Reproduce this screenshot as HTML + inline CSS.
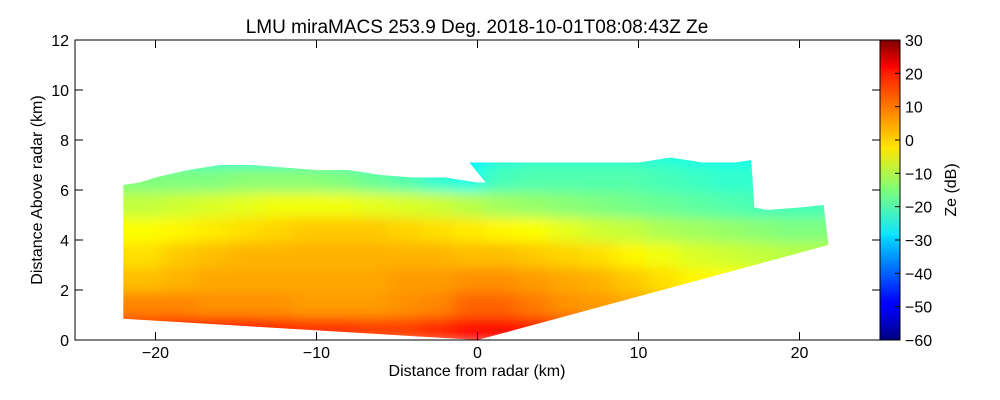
<!DOCTYPE html>
<html><head><meta charset="utf-8"><style>
body{margin:0;background:#fff;}
svg{display:block;font-family:"Liberation Sans",sans-serif;}
</style></head><body>
<svg width="1000" height="400" viewBox="0 0 1000 400">
<defs>
<clipPath id="scan"><polygon id="scanPoly" points=""/></clipPath>
<filter id="blur" x="-5%" y="-5%" width="110%" height="110%"><feGaussianBlur stdDeviation="9 6"/></filter>
<linearGradient id="jet" x1="0" y1="1" x2="0" y2="0">
<stop offset="0" stop-color="#00007f"/><stop offset="0.11" stop-color="#0000ff"/>
<stop offset="0.125" stop-color="#0000ff"/><stop offset="0.34" stop-color="#00d4ff"/>
<stop offset="0.35" stop-color="#0de5ff"/><stop offset="0.5" stop-color="#7dff7a"/>
<stop offset="0.64" stop-color="#ffe600"/><stop offset="0.66" stop-color="#ffd700"/>
<stop offset="0.89" stop-color="#ff1e00"/><stop offset="0.91" stop-color="#ff0000"/>
<stop offset="1" stop-color="#7f0000"/></linearGradient>
</defs>
<text x="477" y="33" text-anchor="middle" font-size="19">LMU miraMACS 253.9 Deg. 2018-10-01T08:08:43Z  Ze</text>
<g clip-path="url(#scan)"><g id="cells" filter="url(#blur)"></g></g>
<rect x="75" y="40" width="805" height="300" fill="none" stroke="#000" stroke-width="1"/>
<g id="axes"></g>
<text x="477" y="376" text-anchor="middle" font-size="16">Distance from radar (km)</text>
<text transform="translate(42,190) rotate(-90)" text-anchor="middle" font-size="16">Distance Above radar  (km)</text>
<rect x="880" y="40" width="20" height="300" fill="url(#jet)" stroke="#000" stroke-width="1"/>
<g id="cbar"></g>
<text transform="translate(956,190) rotate(-90)" text-anchor="middle" font-size="16">Ze (dB)</text>
</svg>
<script>
const xCols=[-22,-20,-18,-16,-14,-12,-10,-8,-6,-4,-2,0,2,4,6,8,10,12,14,16,18,20,22];
const yRows=[0.5,1.5,2.5,3.5,4.5,5.5,6.5,7.5];
const ze=[
[15,15,16,16,16,15,14,14,13,13,15,18,18,16,14,12,10,8,6,4,2,0,-2],
[7,7,7,6,6,6,5,5,5,6,7,10,10,8,6,5,4,2,0,-2,-4,-5,-6],
[2,2,3,4,4,4,4,4,4,5,5,6,6,5,4,3,1,-1,-3,-4,-5,-6,-7],
[-1,-1,1,2,3,3,3,3,3,3,3,2,2,1,0,-1,-3,-5,-7,-8,-9,-10,-10],
[-4,-4,-3,-2,-1,0,1,1,1,0,-1,-2,-3,-4,-6,-8,-9,-11,-12,-13,-14,-15,-15],
[-9,-9,-8,-7,-6,-5,-5,-5,-6,-7,-8,-10,-12,-13,-14,-15,-16,-17,-18,-19,-20,-20,-20],
[-15,-15,-15,-15,-14,-14,-14,-15,-17,-19,-22,-24,-20,-19,-19,-19,-19,-20,-21,-22,-22,-22,-22],
[-22,-22,-22,-22,-22,-22,-22,-22,-24,-26,-27,-27,-23,-22,-22,-22,-22,-23,-24,-24,-24,-24,-24]];
const topX=[-22,-21,-20,-18,-16,-14,-12,-10,-8,-6,-4,-2,-1,0,0.5,-0.5,1,2,4,6,8,10,12,14,16,17,17.2,18,20,21.5];
const topY=[6.2,6.3,6.5,6.8,7.0,7.0,6.9,6.8,6.8,6.6,6.5,6.5,6.4,6.3,6.3,7.1,7.1,7.1,7.1,7.1,7.1,7.1,7.3,7.1,7.1,7.2,5.3,5.2,5.3,5.4];
const bottomX=[21.8,0,-22];
const bottomY=[3.8,0,0.85];
const xTicks=[-20,-10,0,10,20];
const yTicks=[0,2,4,6,8,10,12];
const cTicks=[-60,-50,-40,-30,-20,-10,0,10,20,30];
const sx=v=>477.5+v*16.1, sy=v=>340-v*25, sc=v=>340-(v+60)/90*300;
function jet(v){let t=(v+60)/90;t=Math.max(0,Math.min(1,t));
const f=c=>Math.round(255*Math.max(0,Math.min(1,1.5-Math.abs(4*t-c))));
return `rgb(${f(3)},${f(2)},${f(1)})`;}
const NS='http://www.w3.org/2000/svg';
const cells=document.getElementById('cells');
yRows.forEach((h,r)=>xCols.forEach((x,c)=>{
const e=document.createElementNS(NS,'rect');


e.setAttribute('x',sx(x-1.5));e.setAttribute('y',sy(h+0.6));
e.setAttribute('width',16.1*3);e.setAttribute('height',30);
e.setAttribute('fill',jet(ze[r][c]));cells.appendChild(e);}));
let pts=topX.map((x,i)=>sx(x)+','+sy(topY[i]));
pts=pts.concat(bottomX.map((x,i)=>sx(x)+','+sy(bottomY[i])));
document.getElementById('scanPoly').setAttribute('points',pts.join(' '));
const ax=document.getElementById('axes');
function add(tag,attrs,txt,name){const e=document.createElementNS(NS,tag);
for(const k in attrs)e.setAttribute(k,attrs[k]);if(txt!==undefined)e.textContent=txt;


return e;}
xTicks.forEach(v=>{const x=sx(v);
ax.appendChild(add('line',{x1:x,x2:x,y1:340,y2:332,stroke:'#000'},undefined,'x-tick'));
ax.appendChild(add('line',{x1:x,x2:x,y1:40,y2:48,stroke:'#000'},undefined,'x-tick-top'));
ax.appendChild(add('text',{x:x,y:358,'text-anchor':'middle','font-size':16},String(v).replace('-','\u2212'),'x-tick-label'));});
yTicks.forEach(v=>{const y=sy(v);
ax.appendChild(add('line',{x1:75,x2:83,y1:y,y2:y,stroke:'#000'},undefined,'y-tick'));
ax.appendChild(add('line',{x1:880,x2:872,y1:y,y2:y,stroke:'#000'},undefined,'y-tick-right'));
ax.appendChild(add('text',{x:69,y:y+6,'text-anchor':'end','font-size':16},String(v),'y-tick-label'));});
const cb=document.getElementById('cbar');
cTicks.forEach(v=>{const y=sc(v);
cb.appendChild(add('line',{x1:900,x2:895,y1:y,y2:y,stroke:'#000'},undefined,'colorbar-tick'));
cb.appendChild(add('text',{x:905,y:y+6,'font-size':16},String(v).replace('-','\u2212'),'colorbar-tick-label'));});
</script>
</body></html>
